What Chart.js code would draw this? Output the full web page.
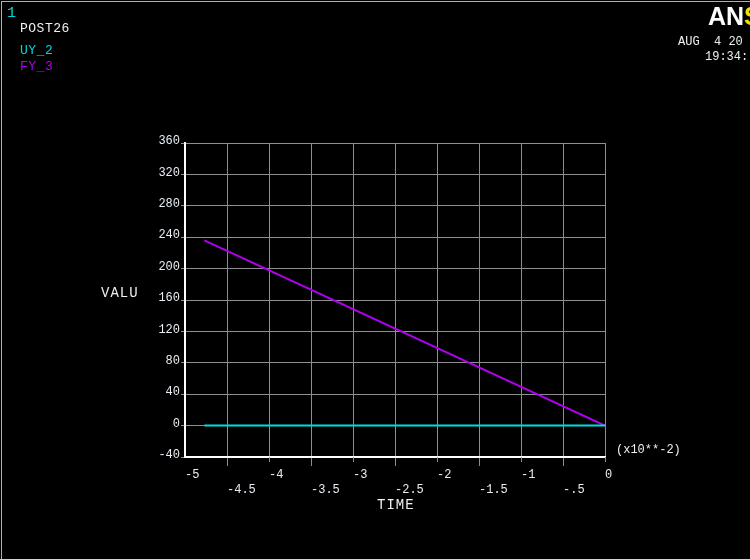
<!DOCTYPE html>
<html>
<head>
<meta charset="utf-8">
<script src="https://cdn.jsdelivr.net/npm/chart.js@4.4.1/dist/chart.umd.min.js"></script>
<style>
html, body { margin: 0; padding: 0; background: #000; overflow: hidden; }
#wrap { position: relative; width: 750px; height: 559px; overflow: hidden; background: #000; }
canvas { position: absolute; left: 0; top: 0; }
.t { position: absolute; font-family: "Liberation Mono", monospace; white-space: pre; line-height: 1; }
#frame { position: absolute; left: 1px; top: 1px; width: 760px; height: 570px; border-left: 1px solid #b0b0b0; border-top: 1px solid #b0b0b0; }
</style>
</head>
<body>
<div id="wrap">
  <canvas id="energyChart" width="750" height="559"></canvas>
  <div id="frame"></div>
  <div class="t" style="left:7px;top:6px;font-size:15px;color:#00d8d8;">1</div>
  <div class="t" style="left:20px;top:22px;font-size:13px;letter-spacing:0.5px;color:#f0f0f0;">POST26</div>
  <div class="t" style="left:20px;top:44px;font-size:13px;letter-spacing:0.5px;color:#00d8d8;">UY_2</div>
  <div class="t" style="left:20px;top:60px;font-size:13px;letter-spacing:0.5px;color:#b000f0;">FY_3</div>
  <div class="t" style="left:708px;top:4px;font-size:25px;font-weight:bold;font-family:'Liberation Sans',sans-serif;color:#fff;">AN<span style="color:#f0e000">SYS</span></div>
  <div class="t" style="left:678px;top:36px;font-size:12px;color:#f0f0f0;">AUG  4 20</div>
  <div class="t" style="left:705px;top:51px;font-size:12px;color:#f0f0f0;">19:34:</div>
  <div class="t" style="left:101px;top:286px;font-size:14px;letter-spacing:1px;color:#f0f0f0;">VALU</div>
  <div class="t" style="left:377px;top:498px;font-size:14px;letter-spacing:1px;color:#f0f0f0;">TIME</div>
  <div class="t" style="left:616px;top:444px;font-size:12px;color:#f0f0f0;">(x10**-2)</div>
</div>
<script>
// TIME values are in units of 10**-2
const timeValues = [-4.77, 0];
const uy2Values = [0, 0];
const fy3Values = [236, 0];

const yMin = -40, yMax = 360, yStep = 40;
const xMajorLabels = ['-5', '-4', '-3', '-2', '-1', '0'];
const xMinorLabels = ['-4.5', '-3.5', '-2.5', '-1.5', '-.5'];

const ctx = document.getElementById('energyChart').getContext('2d');
const tickFont = { family: 'Liberation Mono', size: 12, lineHeight: 1.25 };
const gridColor = '#8e8e8e';

function toPoints(ys) {
    return timeValues.map((x, i) => ({ x: x, y: ys[i] }));
}

// short tick marks below the axis at whole values (half values get the long ones)
const majorTicks = {
    id: 'majorTicks',
    afterDatasetsDraw(chart) {
        const xs = chart.scales.x;
        const c = chart.ctx;
        c.save();
        c.strokeStyle = gridColor;
        c.lineWidth = 1;
        xs.ticks.forEach(t => {
            if (!Number.isInteger(t.value) || t.value === xs.min) return;
            const px = Math.round(xs.getPixelForValue(t.value)) + 0.5;
            c.beginPath();
            c.moveTo(px, xs.top);
            c.lineTo(px, xs.top + 5);
            c.stroke();
        });
        c.restore();
    }
};

const chart = new Chart(ctx, {
    type: 'line',
    data: {
        datasets: [{
            label: 'UY_2',
            data: toPoints(uy2Values),
            borderColor: '#00dede',
            borderWidth: 2,
            pointRadius: 0
        }, {
            label: 'FY_3',
            data: toPoints(fy3Values),
            borderColor: '#b000f0',
            borderWidth: 2,
            pointRadius: 0
        }]
    },
    options: {
        responsive: false,
        animation: false,
        layout: { padding: { left: 145, right: 145, top: 143, bottom: 62 } },
        plugins: { legend: { display: false }, tooltip: { enabled: false } },
        scales: {
            x: {
                type: 'linear',
                min: -5,
                max: 0,
                ticks: {
                    stepSize: 0.5,
                    align: 'start',
                    padding: 1,
                    color: '#e8eef4',
                    font: tickFont,
                    maxRotation: 0,
                    autoSkip: false,
                    callback: function (v) {
                        if (Number.isInteger(v)) return xMajorLabels[Math.round(v + 5)];
                        return ['', xMinorLabels[Math.floor(v + 5)]];
                    }
                },
                grid: {
                    color: gridColor,
                    tickLength: 9,
                    tickColor: c => (c.tick && Number.isInteger(c.tick.value)) ? 'rgba(0,0,0,0)' : gridColor
                },
                border: { color: '#ffffff', width: 2 },
                afterFit: function (s) { s.height = 40; }
            },
            y: {
                min: yMin,
                max: yMax,
                ticks: {
                    stepSize: yStep,
                    padding: 1,
                    labelOffset: -2,
                    color: '#e8eef4',
                    font: tickFont
                },
                grid: { color: gridColor, tickColor: gridColor, tickLength: 4 },
                border: { color: '#ffffff', width: 2 },
                afterFit: function (s) { s.width = 40; }
            }
        }
    },
    plugins: [majorTicks]
});
</script>
</body>
</html>
